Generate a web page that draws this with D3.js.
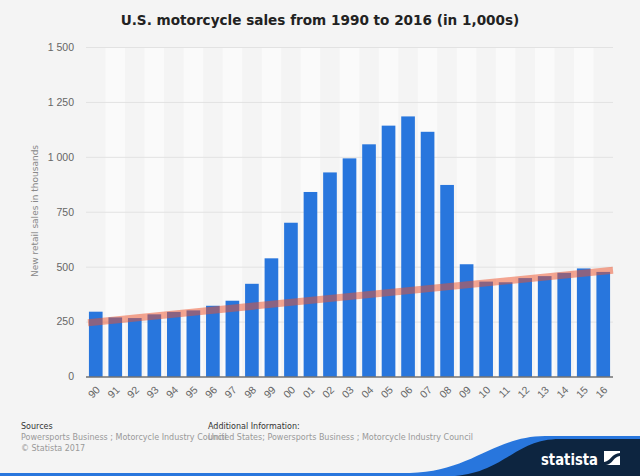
<!DOCTYPE html>
<html>
<head>
<meta charset="utf-8">
<script src="https://cdn.jsdelivr.net/npm/d3@7"></script>
<style>
html,body{margin:0;padding:0;background:#f4f4f4;}
svg{display:block;font-family:"DejaVu Sans",sans-serif;}
</style>
</head>
<body>
<svg id="chart" width="640" height="476"></svg>
<script>
const years = ["90","91","92","93","94","95","96","97","98","99","00","01","02","03","04","05","06","07","08","09","10","11","12","13","14","15","16"];
const sales = [295,269,266,283,294,301,322,345,422,538,700,840,929,993,1057,1142,1184,1114,872,511,432,429,448,457,472,492,476];
const trendEnds = [245,484];
const yTicks = [0,250,500,750,1000,1250,1500];
const title = "U.S. motorcycle sales from 1990 to 2016 (in 1,000s)";
const yTitle = "New retail sales in thousands";

const svg = d3.select("#chart");
const W = 640, H = 476;
const m = {left:86, right:613, top:47, bottom:376.5};

svg.append("rect").attr("width",W).attr("height",H).attr("fill","#f4f4f4");

const x = d3.scaleBand().domain(years).range([m.left, m.right]).paddingInner(0.3).paddingOuter(0.15);
const step = x.step();
const y = d3.scaleLinear().domain([0,1500]).range([m.bottom, m.top]);

// alternating column stripes
svg.append("g").selectAll("rect").data(years.filter((d,i)=>i%2===1)).join("rect")
  .attr("x", d => x(d) - step*x.paddingInner()/2)
  .attr("width", step)
  .attr("y", m.top).attr("height", m.bottom - m.top)
  .attr("fill", "#fafafa");

// grid
const yAxis = d3.axisLeft(y).tickValues(yTicks).tickSize(-(m.right - m.left)).tickPadding(12)
  .tickFormat(d => d3.format(",")(d).replace(",", " "));
const gy = svg.append("g").attr("transform", `translate(${m.left},0)`).call(yAxis);
gy.select(".domain").remove();
gy.selectAll(".tick line").attr("stroke", "#e2e2e2").attr("stroke-width",1);
gy.selectAll(".tick text").attr("fill","#666").attr("font-size","10.5px").attr("dy","0.32em");
gy.selectAll(".tick").filter(d=>d===0).select("line").remove();

// bars
svg.append("g").selectAll("rect").data(sales).join("rect")
  .attr("x", (d,i) => x(years[i]))
  .attr("width", x.bandwidth())
  .attr("y", d => y(d))
  .attr("height", d => y(0) - y(d))
  .attr("fill", "#2876dd");

// x axis
const xAxis = d3.axisBottom(x).tickSize(0).tickPadding(0);
const gx = svg.append("g").attr("transform", `translate(0,${y(0)})`).call(xAxis);
gx.select(".domain").attr("stroke","#333").attr("stroke-width",1.2).attr("d", `M${m.left},0.5H${m.right}`);
gx.selectAll(".tick text")
  .attr("fill","#666").attr("font-size","10.5px")
  .attr("text-anchor","end")
  .attr("dy", null).attr("y", 0)
  .attr("transform","translate(5,14) rotate(-45)");

// trend line
svg.append("line")
  .attr("x1", m.left + 2).attr("x2", m.right)
  .attr("y1", y(trendEnds[0])).attr("y2", y(trendEnds[1]))
  .attr("stroke", "rgb(238,80,40)").attr("stroke-opacity", 0.5)
  .attr("stroke-width", 7);

// title
svg.append("text").attr("x", 320).attr("y", 25).attr("text-anchor","middle")
  .attr("font-size","13.6px").attr("font-weight","bold").attr("fill","#222").text(title);

// y title
svg.append("text").attr("transform","translate(38,211) rotate(-90)").attr("text-anchor","middle")
  .attr("font-size","9px").attr("fill","#888").text(yTitle);

// footer
const f = svg.append("g").attr("font-size","8px");
f.append("text").attr("x",21).attr("y",429).attr("fill","#333").text("Sources");
f.append("text").attr("x",21).attr("y",440).attr("fill","#999").text("Powersports Business ; Motorcycle Industry Council");
f.append("text").attr("x",21).attr("y",451).attr("fill","#999").text("© Statista 2017");
f.append("text").attr("x",208).attr("y",429).attr("fill","#333").text("Additional Information:");
f.append("text").attr("x",208).attr("y",440).attr("fill","#999").text("United States; Powersports Business ; Motorcycle Industry Council");

// statista logo band
svg.append("path").attr("fill","#2876dd")
  .attr("d","M0,473 L410,473 C470,472 495,436 545,436 L640,436 L640,476 L0,476 Z");
svg.append("path").attr("fill","#0d2540")
  .attr("d","M455,476 C505,472 515,439 560,439 L640,439 L640,476 Z");
svg.append("text").attr("x",541).attr("y",465).attr("fill","#fff").attr("font-weight","bold")
  .attr("font-size","16px").attr("font-family","'DejaVu Sans Condensed','DejaVu Sans',sans-serif")
  .attr("textLength",57).attr("lengthAdjust","spacingAndGlyphs").text("statista");
svg.append("path").attr("fill","#fff").attr("d","M604,451 H620 V465 H604 Z");
svg.append("path").attr("fill","#0d2540").attr("d","M604,462 C610,462 612,453 620,453 L620,456 C614,456 612,465 606,465 L604,465 Z");
</script>
</body>
</html>
